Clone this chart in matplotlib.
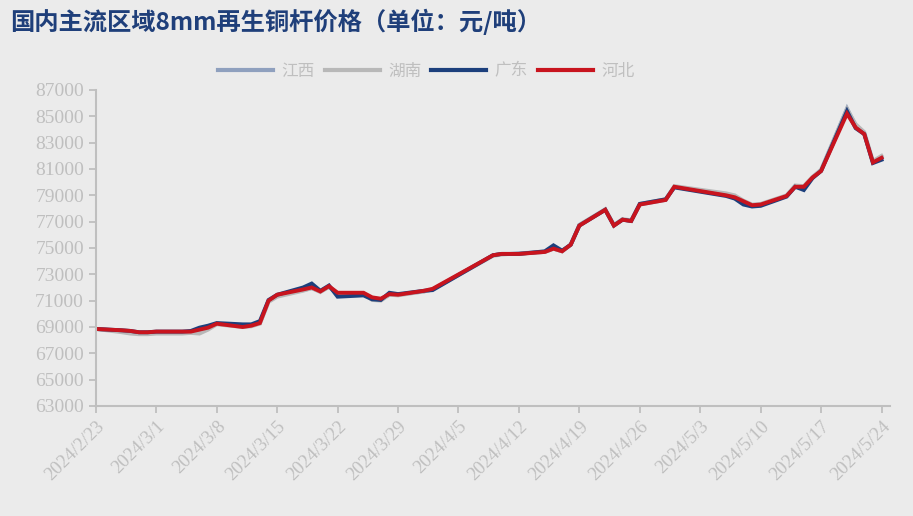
import matplotlib
matplotlib.use("Agg")
import matplotlib.pyplot as plt
import numpy as np
import pandas as pd

# trading days shown on the chart
DATES = pd.to_datetime([
    "2024-02-23", "2024-02-26", "2024-02-27", "2024-02-28", "2024-02-29",
    "2024-03-01", "2024-03-04", "2024-03-05", "2024-03-06", "2024-03-07",
    "2024-03-08", "2024-03-11", "2024-03-12", "2024-03-13", "2024-03-14",
    "2024-03-15", "2024-03-18", "2024-03-19", "2024-03-20", "2024-03-21",
    "2024-03-22", "2024-03-25", "2024-03-26", "2024-03-27", "2024-03-28",
    "2024-03-29", "2024-04-01", "2024-04-02", "2024-04-09", "2024-04-10",
    "2024-04-11", "2024-04-12", "2024-04-15", "2024-04-16", "2024-04-17",
    "2024-04-18", "2024-04-19", "2024-04-22", "2024-04-23", "2024-04-24",
    "2024-04-25", "2024-04-26", "2024-04-29", "2024-04-30", "2024-05-06",
    "2024-05-07", "2024-05-08", "2024-05-09", "2024-05-10", "2024-05-13",
    "2024-05-14", "2024-05-15", "2024-05-16", "2024-05-17", "2024-05-20",
    "2024-05-21", "2024-05-22", "2024-05-23", "2024-05-24",
])

JIANGXI = [
    68850, 68700, 68650, 68550, 68550, 68600, 68600, 68600, 68750, 68900,
    69250, 69050, 69100, 69300, 70950, 71400, 71800, 71950, 71700, 72050,
    71500, 71500, 71200, 71100, 71450, 71450, 71700, 71850, 74450, 74550,
    74550, 74600, 74700, 74950, 74750, 75250, 76750, 77900, 76750, 77150,
    77050, 78300, 78650, 79650, 79050, 78900, 78550, 78250, 78300, 78950,
    79700, 79650, 80350, 80900, 85600, 84300, 83700, 81550, 81900,
]
HUNAN = [
    68850, 68600, 68500, 68450, 68450, 68500, 68500, 68550, 68500, 68800,
    69200, 69000, 69050, 69250, 70900, 71300, 71750, 71950, 71650, 72050,
    71550, 71550, 71050, 71000, 71450, 71400, 71700, 71850, 74400, 74500,
    74550, 74550, 74700, 74950, 74750, 75250, 76750, 77950, 76750, 77200,
    77100, 78350, 78700, 79700, 79150, 79000, 78600, 78300, 78350, 79000,
    79750, 79700, 80400, 80950, 85550, 84400, 83800, 81600, 82000,
]
GUANGDONG = [
    68850, 68750, 68700, 68600, 68600, 68650, 68650, 68700, 68950, 69100,
    69300, 69200, 69200, 69450, 71050, 71450, 72000, 72300, 71750, 72150,
    71300, 71400, 71100, 71050, 71600, 71500, 71750, 71800, 74450, 74550,
    74550, 74550, 74750, 75200, 74800, 75250, 76700, 77900, 76700, 77150,
    77050, 78350, 78700, 79600, 78950, 78750, 78300, 78150, 78200, 78900,
    79650, 79400, 80300, 80850, 85400, 84100, 83650, 81450, 81700,
]
HEBEI = [
    68850, 68750, 68700, 68600, 68600, 68650, 68650, 68650, 68800, 68950,
    69250, 69000, 69100, 69300, 71000, 71450, 71850, 72000, 71700, 72100,
    71600, 71600, 71250, 71150, 71500, 71450, 71750, 71900, 74450, 74550,
    74550, 74550, 74700, 74950, 74750, 75250, 76700, 77900, 76700, 77150,
    77050, 78300, 78650, 79650, 79000, 78850, 78550, 78250, 78300, 78950,
    79650, 79650, 80350, 80850, 85200, 84150, 83650, 81500, 81850,
]

SERIES = [
    ("江西", JIANGXI, "#8FA0BE"),
    ("湖南", HUNAN, "#B8B8B8"),
    ("广东", GUANGDONG, "#1C3F7C"),
    ("河北", HEBEI, "#C8141E"),
]

YTICKS = np.arange(63000, 87001, 2000)

BG = "#EBEBEB"
AXIS_GREY = "#BFBFBF"

plt.rcParams["font.family"] = ["Noto Sans CJK SC", "DejaVu Sans"]

fig = plt.figure(figsize=(9.13, 5.16), dpi=100, facecolor=BG)
ax = fig.add_axes([0.105, 0.2132, 0.87, 0.6124], facecolor=BG)

for name, vals, color in SERIES:
    ax.plot(DATES, vals, color=color, linewidth=2.8, label=name,
            solid_joinstyle="miter")

ax.set_ylim(63000, 87000)
ax.set_yticks(YTICKS)
ax.set_xlim(pd.Timestamp("2024-02-23"), pd.Timestamp("2024-05-25"))

start = pd.Timestamp("2024-02-23")
xt = [start + pd.Timedelta(days=7 * i) for i in range(14)]
ax.set_xticks(xt)
ax.set_xticklabels([f"{d.year}/{d.month}/{d.day}" for d in xt])

for spine in ["top", "right"]:
    ax.spines[spine].set_visible(False)
for spine in ["left", "bottom"]:
    ax.spines[spine].set_color(AXIS_GREY)
    ax.spines[spine].set_linewidth(1.5)

ax.tick_params(axis="both", colors=AXIS_GREY, length=5, width=1.3)
for lab in ax.get_yticklabels():
    lab.set_family("Liberation Serif")
    lab.set_fontsize(14)
    lab.set_color(AXIS_GREY)
for lab in ax.get_xticklabels():
    lab.set_family("Liberation Serif")
    lab.set_fontsize(13.5)
    lab.set_color(AXIS_GREY)
    lab.set_rotation(45)
    lab.set_ha("right")
    lab.set_rotation_mode("anchor")

leg = fig.legend(loc="center", bbox_to_anchor=(0.467, 0.862), ncol=4,
                 frameon=False, fontsize=12, handlelength=3.3,
                 columnspacing=0.6, handletextpad=0.5)
for t in leg.get_texts():
    t.set_color(AXIS_GREY)
for h in leg.get_lines():
    h.set_linewidth(3)

fig.text(0.011, 0.958, "国内主流区域8mm再生铜杆价格（单位：元/吨）",
         fontsize=17.5, fontweight="bold", color="#1F3F7A", va="center",
         ha="left")

fig.savefig("out.png", dpi=100, facecolor=BG)
